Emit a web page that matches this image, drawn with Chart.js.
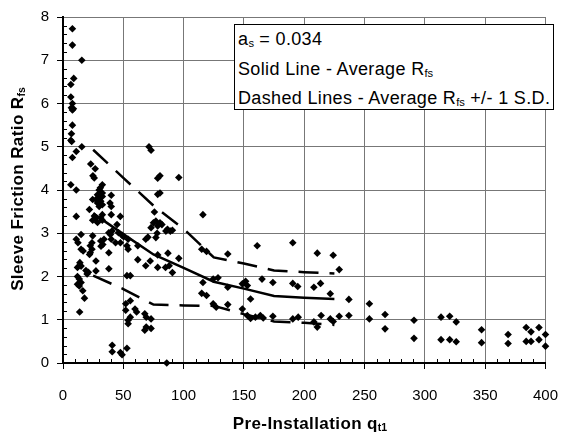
<!DOCTYPE html>
<html>
<head>
<meta charset="utf-8">
<script src="https://cdn.jsdelivr.net/npm/chart.js@4"></script>
<style>
  html, body { margin: 0; padding: 0; background: #fff; }
  #wrap { position: relative; width: 576px; height: 440px; font-family: 'Liberation Sans', Arial, sans-serif; color: #000; }
  #c { position: absolute; left: 0; top: 0; }
  .sub { font-size: 0.62em; position: relative; top: 0.22em; letter-spacing: 0; }
  #xtitle { position: absolute; left: 110px; top: 415px; width: 400px; text-align: center; font-weight: bold; font-size: 17px; line-height: 17px; letter-spacing: 0.4px; white-space: nowrap; }
  #ytitle { position: absolute; left: -132px; top: 179px; width: 300px; height: 20px; line-height: 20px; text-align: center; font-weight: bold; font-size: 17px; letter-spacing: 0.4px; white-space: nowrap; transform: rotate(-90deg); }
  #note { position: absolute; left: 234px; top: 24px; width: 320px; height: 86px; box-sizing: border-box; border: 1px solid #000; background: #fff; padding: 1px 0 0 3px; font-size: 18px; line-height: 27.5px; letter-spacing: 0.35px; white-space: nowrap; }
</style>
</head>
<body>
<div id="wrap">
  <canvas id="c" width="576" height="440"></canvas>
  <div id="note">
    <div>a<span class="sub">s</span> = 0.034</div>
    <div>Solid Line - Average R<span class="sub">fs</span></div>
    <div>Dashed Lines - Average R<span class="sub">fs</span> +/- 1 S.D.</div>
  </div>
  <div id="xtitle">Pre-Installation q<span class="sub">t1</span></div>
  <div id="ytitle">Sleeve Friction Ratio R<span class="sub">fs</span></div>
</div>
<script>
// 測定点 (Pre-Installation qt1, Rfs).
const qt1 = [
  7.8, 7.8, 15.6, 8.9, 6.5, 6.5, 7.8, 7.0, 7.8, 8.6, 7.8, 7.0, 6.5, 7.2, 15.6, 11, 7.8, 23, 26.7, 24.8,
  25.9, 32.6, 31, 6.5, 11, 30, 32.6, 28.6, 32.6, 30, 27.3, 31.3, 28.6, 32.6, 30, 24.6, 40, 39, 40, 21.9,
  11, 26, 27.3, 24.6, 28.6, 31.3, 32.6, 32.6, 40, 47.5, 44.8, 38, 39.3, 40.6, 46, 49, 50.3, 15, 11, 24.6,
  34, 31.3, 40, 43.6, 47.6, 12.4, 24, 22.6, 33, 31.5, 54, 53, 54, 15, 16.7, 24, 22.6, 22, 38, 14,
  15, 12, 27.3, 19, 21, 20, 27.3, 38, 12, 13.5, 15, 12, 13.5, 53, 55.8, 16.4, 17.8, 13.8, 40.8, 40.8,
  47.6, 49, 53, 71.3, 73, 78.5, 80.4, 96, 78.5, 80.4, 75.8, 77, 80.4, 75, 78.5, 82, 73, 86.6, 89, 90.7,
  85.3, 78, 77, 70.4, 68.6, 62, 87, 78.5, 96, 62, 72.3, 68.6, 78.5, 85, 88, 90.7, 55.8, 52, 59.7, 61,
  55.8, 54, 54, 52, 67.8, 69, 73, 69, 67.8, 73, 86, 116, 115, 119, 136.6, 161, 190.5, 210.8, 224, 229,
  124.5, 128.5, 116, 136.6, 148.7, 151.4, 152.8, 165, 174, 190.5, 194.6, 208, 213.5, 221.6, 237, 115, 119, 155.5, 124.5, 127,
  136.6, 148.7, 152.8, 155.5, 159.5, 163.6, 166, 174, 190.5, 195, 208, 210.8, 214, 221.6, 224, 229, 237, 254, 254, 267,
  267, 291, 291, 313.4, 320.6, 326, 313.4, 320.6, 326, 347, 347, 369, 369, 384, 388, 394.6, 384, 388, 394.6, 400,
  400
];
const rfs = [
  7.73, 7.35, 7.0, 6.58, 6.44, 6.15, 6.0, 5.9, 5.85, 5.88, 5.5, 5.3, 5.15, 5.12, 5.0, 4.89, 4.75, 4.6, 4.49, 4.33,
  4.28, 4.12, 4.05, 4.12, 4.0, 4.0, 3.93, 3.89, 3.85, 3.81, 3.78, 3.74, 3.70, 3.66, 3.62, 3.78, 3.88, 3.7, 3.62, 3.55,
  3.39, 3.4, 3.35, 3.3, 3.25, 3.35, 3.3, 3.43, 3.43, 3.39, 3.2, 3.01, 2.97, 3.05, 3.01, 2.95, 2.92, 2.97, 2.86, 2.94,
  2.86, 2.82, 2.86, 2.78, 2.78, 2.78, 2.78, 2.71, 2.74, 2.70, 2.86, 2.71, 2.63, 2.63, 2.59, 2.63, 2.55, 2.51, 2.55, 2.32,
  2.24, 2.21, 2.36, 2.14, 2.1, 2.06, 2.13, 2.18, 2.0, 1.94, 1.86, 1.82, 1.78, 2.02, 2.02, 1.67, 1.5, 1.18, 0.41, 0.26,
  0.24, 0.19, 0.34, 5.0, 4.92, 4.27, 4.33, 4.29, 3.9, 3.93, 3.49, 3.28, 3.24, 3.24, 3.17, 3.2, 3.13, 3.09, 3.05, 3.07,
  3.05, 3.0, 2.9, 2.91, 2.86, 2.71, 2.54, 2.5, 2.42, 2.39, 2.36, 2.25, 2.21, 2.21, 2.25, 2.09, 1.44, 1.37, 1.25, 1.18,
  1.06, 0.99, 0.91, 1.22, 1.14, 1.06, 1.02, 0.83, 0.76, 0.8, 0.0, 3.43, 2.63, 2.58, 2.52, 2.71, 2.78, 2.54, 2.49, 2.16,
  1.94, 1.97, 1.86, 1.75, 1.83, 1.89, 1.79, 1.94, 1.86, 1.84, 1.77, 1.75, 1.84, 1.6, 1.47, 1.61, 1.56, 1.48, 1.37, 1.29,
  1.35, 1.25, 1.1, 1.03, 1.06, 1.1, 1.04, 1.08, 1.02, 1.06, 0.95, 0.83, 1.1, 1.02, 0.96, 1.08, 1.1, 1.37, 1.02, 1.12,
  0.79, 0.99, 0.57, 1.06, 1.08, 0.95, 0.54, 0.54, 0.49, 0.77, 0.47, 0.66, 0.45, 0.82, 0.72, 0.82, 0.5, 0.5, 0.54, 0.66,
  0.39
];

// 平均線と ±1 S.D. 線.
const binQ = [25, 50, 75, 100, 125, 150, 175, 200, 225];
const avgRfs = [3.46, 2.98, 2.51, 2.2, 1.88, 1.72, 1.55, 1.51, 1.48];
const upperRfs = [4.93, 4.28, 3.64, 3.1, 2.44, 2.3, 2.14, 2.1, 2.07];
const lowerRfs = [2.02, 1.71, 1.35, 1.33, 1.32, 1.13, 0.96, 0.93, 0.88];

const xTicksMinor = 10;
const yTicksMinor = 0.2;

const toXY = (xs, ys) => xs.map((x, i) => ({ x: x, y: ys[i] }));

const font = { family: "'Liberation Sans', Arial, sans-serif", size: 15 };

// 補助目盛り.
const minorTicks = {
  id: 'minorTicks',
  afterDraw(chart) {
    const c = chart.ctx;
    const xs = chart.scales.x, ys = chart.scales.y;
    const a = chart.chartArea;
    c.save();
    c.strokeStyle = '#000';
    c.lineWidth = 1;
    c.beginPath();
    for (let v = xs.min + xTicksMinor; v < xs.max; v += xTicksMinor) {
      if (Math.abs(v % 50) < 1e-6) continue;
      const px = Math.round(xs.getPixelForValue(v)) + 0.5;
      c.moveTo(px, a.bottom);
      c.lineTo(px, a.bottom - 4);
    }
    for (let k = 1; k < 40; k++) {
      if (k % 5 === 0) continue;
      const py = Math.round(ys.getPixelForValue(k * yTicksMinor)) + 0.5;
      c.moveTo(a.left, py);
      c.lineTo(a.left + 4, py);
    }
    c.stroke();
    c.restore();
  }
};

new Chart(document.getElementById('c'), {
  type: 'scatter',
  data: {
    datasets: [
      {
        data: toXY(qt1, rfs),
        pointStyle: 'rectRot',
        pointRadius: 3.8,
        backgroundColor: '#000',
        borderColor: '#000',
        borderWidth: 0,
        clip: false,
      },
      {
        data: toXY(binQ, avgRfs),
        showLine: true,
        borderColor: '#000',
        borderWidth: 2.5,
        pointRadius: 0,
      },
      {
        data: toXY(binQ, upperRfs),
        showLine: true,
        borderColor: '#000',
        borderWidth: 2.5,
        borderDash: [20, 11],
        pointRadius: 0,
      },
      {
        data: toXY(binQ, lowerRfs),
        showLine: true,
        borderColor: '#000',
        borderWidth: 2.5,
        borderDash: [20, 11],
        pointRadius: 0,
      },
    ],
  },
  options: {
    responsive: false,
    animation: false,
    devicePixelRatio: 1,
    layout: { padding: { top: 14, right: 19, left: 0, bottom: 0 } },
    plugins: { legend: { display: false }, tooltip: { enabled: false } },
    scales: {
      x: {
        type: 'linear', min: 0, max: 400,
        ticks: { stepSize: 50, font: font, color: '#000', padding: 18, maxRotation: 0 },
        grid: { color: '#777', tickColor: '#000', tickLength: 6 },
        border: { color: '#000', width: 2 },
        afterFit(s) { s.height = 77; },
      },
      y: {
        type: 'linear', min: 0, max: 8,
        ticks: { stepSize: 1, font: font, color: '#000', padding: 8 },
        grid: { color: '#777', tickColor: '#000', tickLength: 6 },
        border: { color: '#000', width: 2 },
        afterFit(s) { s.width = 63; },
      },
    },
  },
  plugins: [minorTicks],
});
</script>
</body>
</html>
